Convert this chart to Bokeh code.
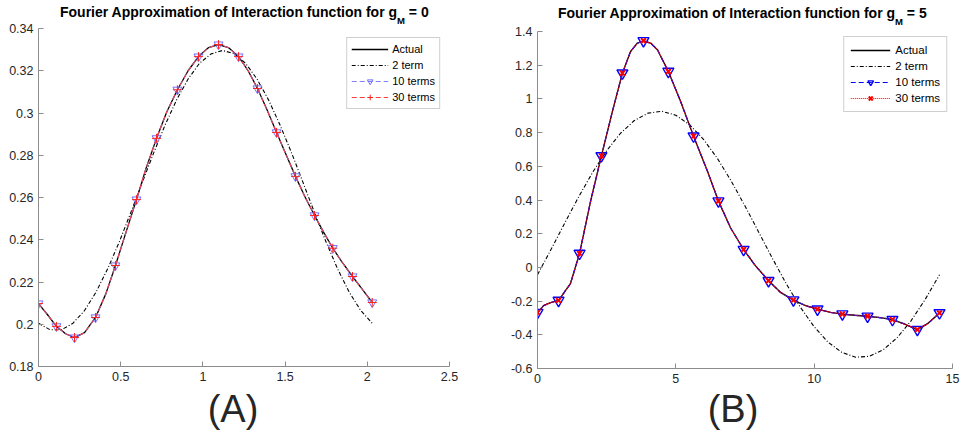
from bokeh.plotting import figure
from bokeh.layouts import row, column
from bokeh.models import (Range1d, FixedTicker, NumeralTickFormatter, Legend, LegendItem, Div)
from bokeh.embed import file_html
from bokeh.resources import INLINE

# ---------------- Panel A (g_M = 0) ----------------
a_actual_x = [0.00, 0.055, 0.109, 0.165, 0.219, 0.28, 0.347, 0.41, 0.468, 0.53, 0.596, 0.655,
              0.718, 0.78, 0.845, 0.91, 0.973, 1.035, 1.095, 1.155, 1.217, 1.275, 1.332, 1.39,
              1.448, 1.505, 1.563, 1.62, 1.679, 1.735, 1.79, 1.85, 1.91, 1.97, 2.03]
a_actual_y = [0.2098, 0.2045, 0.1990, 0.1955, 0.1937, 0.1960, 0.2032, 0.2145, 0.2278, 0.2430,
              0.2590, 0.2740, 0.2880, 0.3005, 0.3110, 0.3200, 0.3267, 0.3310, 0.3324, 0.3310,
              0.3267, 0.3200, 0.3116, 0.3015, 0.2908, 0.2805, 0.2700, 0.2605, 0.2515, 0.2435,
              0.2360, 0.2290, 0.2226, 0.2165, 0.2103]
a_two_x = [0.00, 0.07, 0.14, 0.21, 0.28, 0.35, 0.42, 0.49, 0.56, 0.63, 0.70, 0.77, 0.84, 0.91,
           0.98, 1.05, 1.12, 1.19, 1.26, 1.33, 1.40, 1.47, 1.54, 1.61, 1.68, 1.75, 1.82, 1.89,
           1.96, 2.03]
a_two_y = [0.2005, 0.1974, 0.1974, 0.2005, 0.2065, 0.2152, 0.2261, 0.2387, 0.2526, 0.2669,
           0.2810, 0.2943, 0.3062, 0.3161, 0.3236, 0.3280, 0.3296, 0.3281, 0.3235, 0.3160,
           0.3061, 0.2942, 0.2810, 0.2669, 0.2526, 0.2388, 0.2261, 0.2152, 0.2065, 0.2005]
a_mark_x = [0, 0.109, 0.219, 0.347, 0.468, 0.596, 0.718, 0.845, 0.973, 1.095, 1.217, 1.332,
            1.448, 1.563, 1.679, 1.79, 1.91, 2.03]
a_mark_y = [0.2098, 0.199, 0.1937, 0.2032, 0.2278, 0.259, 0.288, 0.311, 0.3267, 0.3324, 0.3267,
            0.3116, 0.2908, 0.27, 0.2515, 0.236, 0.2226, 0.2103]
a_xticks = [0, 0.5, 1, 1.5, 2, 2.5]
a_yticks = [0.18, 0.2, 0.22, 0.24, 0.26, 0.28, 0.3, 0.32, 0.34]

# ---------------- Panel B (g_M = 5) ----------------
b_actual_x = [0, 0.22, 0.45, 0.76, 1.19, 1.52, 1.92, 2.31, 2.71, 3.07, 3.36, 3.6, 3.83, 4.1,
              4.34, 4.73, 5.17, 5.64, 6.14, 6.54, 6.98, 7.45, 7.88, 8.35, 8.78, 9.25, 9.69,
              10.12, 10.59, 11.02, 11.47, 11.93, 12.38, 12.83, 13.23, 13.73, 14.1, 14.53]
b_actual_y = [-0.268, -0.227, -0.21, -0.196, -0.097, 0.083, 0.394, 0.662, 0.927, 1.153, 1.28,
              1.33, 1.345, 1.33, 1.29, 1.163, 0.986, 0.779, 0.572, 0.394, 0.234, 0.106, 0.009,
              -0.079, -0.148, -0.194, -0.227, -0.248, -0.267, -0.277, -0.284, -0.29, -0.298,
              -0.31, -0.334, -0.369, -0.334, -0.27]
b_two_x = [0, 0.5, 1, 1.5, 2, 2.5, 3, 3.5, 4, 4.5, 5, 5.5, 6, 6.5, 7, 7.5, 8, 8.5, 9, 9.5, 10,
           10.5, 11, 11.5, 12, 12.5, 13, 13.5, 14, 14.53]
b_two_y = [-0.0438, 0.110, 0.2679, 0.4225, 0.566, 0.6926, 0.7962, 0.8717, 0.9158, 0.9264,
           0.9030, 0.8466, 0.7600, 0.6472, 0.5131, 0.3642, 0.2078, 0.0508, -0.0997, -0.2362,
           -0.3524, -0.4434, -0.5045, -0.5330, -0.5275, -0.4884, -0.4172, -0.3172, -0.1935,
           -0.0442]
b_mark_x = [0, 0.76, 1.52, 2.31, 3.07, 3.83, 4.73, 5.64, 6.54, 7.45, 8.35, 9.25, 10.12, 11.02,
            11.93, 12.83, 13.73, 14.53]
b_mark_y = [-0.268, -0.196, 0.083, 0.662, 1.153, 1.345, 1.163, 0.779, 0.394, 0.106, -0.079,
            -0.194, -0.248, -0.277, -0.29, -0.31, -0.369, -0.27]
b_xticks = [0, 5, 10, 15]
b_yticks = [-0.6, -0.4, -0.2, 0, 0.2, 0.4, 0.6, 0.8, 1, 1.2, 1.4]

legend_labels = ["Actual", "2 term", "10 terms", "30 terms"]
title_main = "Fourier Approximation of Interaction function for g"
title_sub = "M"
title_tail = [" = 0", " = 5"]
panel_tags = ["(A)", "(B)"]

FONT = "Liberation Sans"
AXIS_COL = "#8c8c8c"
TEXT_COL = "#262626"


def style(p, xticks, yticks):
    p.outline_line_color = None
    p.xgrid.visible = False
    p.ygrid.visible = False
    for ax in (p.xaxis[0], p.yaxis[0]):
        ax.axis_line_color = AXIS_COL
        ax.major_tick_line_color = AXIS_COL
        ax.minor_tick_line_color = None
        ax.major_tick_in = 5
        ax.major_tick_out = 0
        ax.major_label_text_font = FONT
        ax.major_label_text_font_size = "12.5px"
        ax.major_label_text_color = TEXT_COL
        ax.major_label_standoff = 5
        ax.formatter = NumeralTickFormatter(format="0.[00]")
    p.xaxis[0].ticker = FixedTicker(ticks=xticks)
    p.yaxis[0].ticker = FixedTicker(ticks=yticks)


def title_div(idx, pad_left, shift):
    html = ('<div style="white-space:nowrap;font-family:\'Liberation Sans\',Arial,sans-serif;'
            'font-weight:bold;font-size:14px;line-height:20px;color:#000;'
            f'padding-left:{pad_left}px;position:relative;top:{shift}px;">'
            f'{title_main}<span style="font-size:9.5px;vertical-align:-7px;">{title_sub}</span>'
            f'{title_tail[idx]}</div>')
    return Div(text=html, width=480, height=23, margin=0)


def tag_div(idx, box_w, shift, h):
    html = ('<div style="white-space:nowrap;font-family:\'Liberation Sans\',Arial,sans-serif;'
            f'font-size:38px;line-height:38px;color:{TEXT_COL};text-align:center;'
            f'width:{box_w}px;position:relative;top:{shift}px;">{panel_tags[idx]}</div>')
    return Div(text=html, width=480, height=h, margin=0)


# ---------- figure A ----------
pa = figure(width=480, height=373, output_backend="svg", toolbar_location=None,
            x_range=Range1d(0, 2.5), y_range=Range1d(0.18, 0.34),
            min_border_left=38, min_border_right=31, min_border_top=5, min_border_bottom=30,
            background_fill_color="white", border_fill_alpha=0, margin=0)
style(pa, a_xticks, a_yticks)
ra_act = pa.line(a_actual_x, a_actual_y, line_color="black", line_width=1.3)
ra_two = pa.line(a_two_x, a_two_y, line_color="black", line_width=1.1, line_dash="4 2 1 2")
ra_10l = pa.line(a_actual_x, a_actual_y, line_color="#7f7fff", line_width=1, line_dash="5 3")
ra_10m = pa.scatter(a_mark_x, a_mark_y, marker="inverted_triangle", size=9, fill_color=None,
                    line_color="#7070ff", line_width=1)
ra_30l = pa.line(a_actual_x, a_actual_y, line_color="#ff3b3b", line_width=1, line_dash="5 3")
ra_30m = pa.scatter(a_mark_x, a_mark_y, marker="cross", size=9, line_color="#ff2020", line_width=1)
leg_a = Legend(items=[LegendItem(label=legend_labels[0], renderers=[ra_act]),
                      LegendItem(label=legend_labels[1], renderers=[ra_two]),
                      LegendItem(label=legend_labels[2], renderers=[ra_10l, ra_10m]),
                      LegendItem(label=legend_labels[3], renderers=[ra_30l, ra_30m])],
               location="top_right", margin=9, padding=4, spacing=2, glyph_width=37,
               glyph_height=14, label_height=14, label_standoff=4,
               label_text_font=FONT, label_text_font_size="11px", label_text_color="black",
               border_line_color="#a0a0a0", border_line_width=1, background_fill_alpha=1)
pa.add_layout(leg_a)

# ---------- figure B ----------
pb = figure(width=480, height=375, output_backend="svg", toolbar_location=None,
            x_range=Range1d(0, 15), y_range=Range1d(-0.6, 1.4),
            min_border_left=57, min_border_right=8, min_border_top=8, min_border_bottom=30,
            background_fill_color="white", border_fill_alpha=0, margin=0)
style(pb, b_xticks, b_yticks)
rb_act = pb.line(b_actual_x, b_actual_y, line_color="black", line_width=1.3)
rb_two = pb.line(b_two_x, b_two_y, line_color="black", line_width=1.1, line_dash="4 2 1 2")
rb_10l = pb.line(b_actual_x, b_actual_y, line_color="#0000ff", line_width=1.2, line_dash="5 3")
rb_10m = pb.scatter(b_mark_x, b_mark_y, marker="inverted_triangle", size=11, fill_color=None,
                    line_color="#0000ff", line_width=1.4)
rb_30l = pb.line(b_actual_x, b_actual_y, line_color="#ff0000", line_width=1.2, line_dash="1 1")
rb_30m = pb.scatter(b_mark_x, b_mark_y, marker="x", size=7, line_color="#ff0000", line_width=2)
leg_b = Legend(items=[LegendItem(label=legend_labels[0], renderers=[rb_act]),
                      LegendItem(label=legend_labels[1], renderers=[rb_two]),
                      LegendItem(label=legend_labels[2], renderers=[rb_10l, rb_10m]),
                      LegendItem(label=legend_labels[3], renderers=[rb_30l, rb_30m])],
               location="top_right", margin=5, padding=6, spacing=2, glyph_width=40,
               glyph_height=14, label_height=14, label_standoff=5,
               label_text_font=FONT, label_text_font_size="11.5px", label_text_color="black",
               border_line_color="#a0a0a0", border_line_width=1, background_fill_alpha=1)
pb.add_layout(leg_b)

col_a = column(title_div(0, 60, 2), pa, tag_div(0, 466, -6, 38), margin=0, spacing=0)
col_b = column(title_div(1, 78, 3), pb, tag_div(1, 506, -8, 36), margin=0, spacing=0)
layout = row(col_a, col_b, margin=0, spacing=0)
open("out.html", "w").write(file_html(layout, INLINE))
